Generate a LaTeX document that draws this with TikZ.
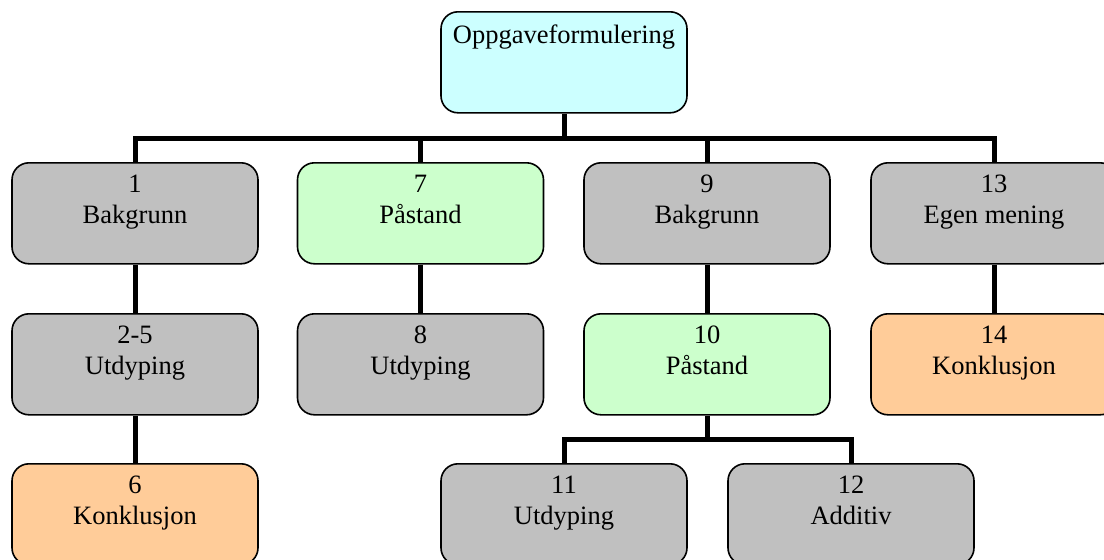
\documentclass[tikz,border=0pt]{standalone}
\usepackage{fontspec}
\setmainfont{Liberation Serif}
\definecolor{topc}{HTML}{CCFFFF}
\definecolor{grayc}{HTML}{C0C0C0}
\definecolor{greenc}{HTML}{CCFFCC}
\definecolor{orangec}{HTML}{FFCC99}
\begin{document}
\begin{tikzpicture}[x=1pt,y=-1pt,
  box/.style={draw=black, line width=1.6pt, rounded corners=17pt,
    minimum width=246pt, minimum height=101pt, anchor=north, inner sep=0pt},
  lbl/.style={anchor=north, align=center, inner sep=0pt,
    font=\fontsize{26.5}{31}\selectfont},
  conn/.style={line width=5pt}]
\useasboundingbox (0,0) rectangle (1104,560);
\clip (0,0) rectangle (1104,560);

% junction points of the connector bars
\coordinate (busA) at (564,138);
\coordinate (busB) at (707,439);

% boxes
\node[box, fill=topc]    (top) at (564,11)   {};
\node[box, fill=grayc]   (n1)  at (135,162)  {};
\node[box, fill=greenc]  (n7)  at (420.5,162) {};
\node[box, fill=grayc]   (n9)  at (707,162)  {};
\node[box, fill=grayc]   (n13) at (994,162)  {};
\node[box, fill=grayc]   (n2)  at (135,313)  {};
\node[box, fill=grayc]   (n8)  at (420.5,313) {};
\node[box, fill=greenc]  (n10) at (707,313)  {};
\node[box, fill=orangec] (n14) at (994,313)  {};
\node[box, fill=orangec] (n6)  at (135,463)  {};
\node[box, fill=grayc]   (n11) at (564,463)  {};
\node[box, fill=grayc]   (n12) at (851,463)  {};

% texts
\node[lbl] (ttop) at ([yshift=-14pt]top.north) {Oppgaveformulering};
\node[lbl] (t1)  at ([yshift=-13pt]n1.north)  {1\\Bakgrunn};
\node[lbl] (t7)  at ([yshift=-13pt]n7.north)  {7\\Påstand};
\node[lbl] (t9)  at ([yshift=-13pt]n9.north)  {9\\Bakgrunn};
\node[lbl] (t13) at ([yshift=-13pt]n13.north) {13\\Egen mening};
\node[lbl] (t2)  at ([yshift=-13pt]n2.north)  {2-5\\Utdyping};
\node[lbl] (t8)  at ([yshift=-13pt]n8.north)  {8\\Utdyping};
\node[lbl] (t10) at ([yshift=-13pt]n10.north) {10\\Påstand};
\node[lbl] (t14) at ([yshift=-13pt]n14.north) {14\\Konklusjon};
\node[lbl] (t6)  at ([yshift=-13pt]n6.north)  {6\\Konklusjon};
\node[lbl] (t11) at ([yshift=-13pt]n11.north) {11\\Utdyping};
\node[lbl] (t12) at ([yshift=-13pt]n12.north) {12\\Additiv};

% connectors
\draw[conn] (top.south) -- (busA);
\draw[conn] (n1.north) |- (busA);
\draw[conn] (n7.north) |- (busA);
\draw[conn] (n9.north) |- (busA);
\draw[conn] (n13.north) |- (busA);
\draw[conn] (n1.south) -- (n2.north);
\draw[conn] (n2.south) -- (n6.north);
\draw[conn] (n7.south) -- (n8.north);
\draw[conn] (n9.south) -- (n10.north);
\draw[conn] (n13.south) -- (n14.north);
\draw[conn] (n10.south) -- (busB);
\draw[conn] (n11.north) |- (busB);
\draw[conn] (n12.north) |- (busB);
\end{tikzpicture}
\end{document}
